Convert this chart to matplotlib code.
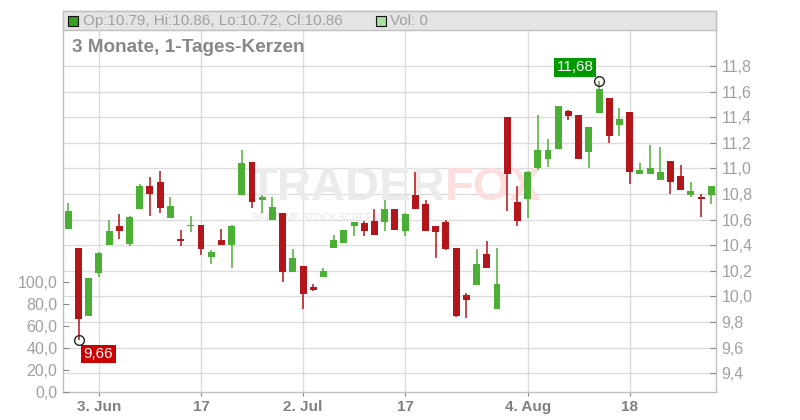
import matplotlib
matplotlib.use("Agg")
import matplotlib.pyplot as plt
import numpy as np
import pandas as pd

plt.rcParams['font.family'] = ['Liberation Sans', 'DejaVu Sans']

# trading days (US calendar, 2025)
dates = pd.bdate_range('2025-05-29', '2025-08-28', freq='C',
                       holidays=['2025-06-19', '2025-07-04'])

opens = [10.53, 10.38, 9.85, 10.18, 10.40, 10.55, 10.41, 10.68, 10.86, 10.89,
         10.61, 10.45, 10.55, 10.56, 10.31, 10.44, 10.40, 10.79, 11.05, 10.75,
         10.60, 10.65, 10.19, 10.24, 10.07, 10.15, 10.38, 10.42, 10.55, 10.57,
         10.59, 10.58, 10.68, 10.51, 10.79, 10.72, 10.55, 10.58, 10.38, 10.01,
         10.09, 10.33, 9.90, 11.40, 10.74, 10.76, 11.00, 11.07, 11.15, 11.45,
         11.42, 11.13, 11.43, 11.55, 11.34, 11.44, 10.96, 10.96, 10.91, 11.06,
         10.94, 10.79, 10.78, 10.79]
highs = [10.73, 10.38, 10.14, 10.35, 10.60, 10.64, 10.63, 10.88, 10.93, 10.98,
         10.78, 10.52, 10.63, 10.56, 10.36, 10.53, 10.56, 11.14, 11.05, 10.79,
         10.78, 10.65, 10.37, 10.24, 10.10, 10.22, 10.48, 10.52, 10.58, 10.59,
         10.68, 10.75, 10.68, 10.65, 10.97, 10.75, 10.55, 10.60, 10.38, 10.03,
         10.37, 10.43, 10.38, 11.40, 10.86, 10.98, 11.42, 11.23, 11.49, 11.46,
         11.42, 11.32, 11.68, 11.55, 11.47, 11.44, 11.04, 11.18, 11.17, 11.06,
         11.03, 10.89, 10.80, 10.86]
lows = [10.53, 9.66, 9.85, 10.15, 10.40, 10.45, 10.39, 10.68, 10.63, 10.65,
        10.61, 10.39, 10.50, 10.32, 10.25, 10.40, 10.22, 10.79, 10.69, 10.65,
        10.60, 10.11, 10.19, 9.90, 10.04, 10.15, 10.38, 10.42, 10.47, 10.47,
        10.48, 10.51, 10.52, 10.47, 10.68, 10.51, 10.30, 10.36, 9.84, 9.83,
        10.09, 10.22, 9.90, 10.67, 10.55, 10.61, 10.99, 11.01, 11.15, 11.38,
        11.07, 11.00, 11.43, 11.20, 11.25, 10.88, 10.96, 10.96, 10.91, 10.80,
        10.83, 10.78, 10.62, 10.72]
closes = [10.67, 9.82, 10.14, 10.34, 10.51, 10.51, 10.62, 10.86, 10.80, 10.69,
          10.71, 10.43, 10.56, 10.37, 10.35, 10.40, 10.55, 11.04, 10.74, 10.78,
          10.70, 10.19, 10.30, 10.02, 10.05, 10.20, 10.44, 10.52, 10.58, 10.51,
          10.48, 10.68, 10.52, 10.64, 10.68, 10.51, 10.50, 10.37, 9.85, 9.97,
          10.25, 10.22, 10.10, 10.96, 10.59, 10.97, 11.14, 11.14, 11.49, 11.41,
          11.07, 11.32, 11.62, 11.25, 11.39, 10.97, 10.99, 11.00, 10.97, 10.89,
          10.83, 10.82, 10.76, 10.86]
volumes = [0] * len(dates)

tick_dates = ['2025-06-03', '2025-06-17', '2025-07-02', '2025-07-17', '2025-08-04', '2025-08-18']
tick_labels = ['3. Jun', '17', '2. Jul', '17', '4. Aug', '18']
price_ticks = [9.4, 9.6, 9.8, 10.0, 10.2, 10.4, 10.6, 10.8, 11.0, 11.2, 11.4, 11.6, 11.8]
vol_ticks = [0, 20, 40, 60, 80, 100]

GREEN = '#4caf35'
RED = '#b2161a'
GRID = '#dcdcdc'
TXT = '#a0a0a0'

fig = plt.figure(figsize=(8, 4.2), dpi=100)
ax = fig.add_axes([63 / 800, 1 - 392 / 420, (716 - 63) / 800, (392 - 11) / 420])
vax = ax.twinx()

x = np.arange(len(dates))
o = np.array(opens); h = np.array(highs); l = np.array(lows); c = np.array(closes)
up = c >= o
cols = np.where(up, GREEN, RED)
body_lo = np.minimum(o, c)
body_h = np.maximum(np.abs(c - o), 0.008)

ax.vlines(x, l, h, colors=cols, linewidth=1.1, zorder=3)
ax.bar(x, body_h, bottom=body_lo, width=0.68, color=cols, linewidth=0, zorder=4)

ax.set_xlim(-0.52, 63.46)
ax.set_ylim(9.253, 12.23)

# price axis on the right
ax.yaxis.tick_right()
ax.set_yticks(price_ticks)
ax.set_yticklabels([f'{v:.1f}'.replace('.', ',') for v in price_ticks])
ax.tick_params(axis='y', direction='in', length=4, color='#888888', labelcolor=TXT,
               labelsize=11.5, pad=4)

tick_pos = [dates.get_loc(pd.Timestamp(d)) for d in tick_dates]
ax.set_xticks(tick_pos)
ax.set_xticklabels(tick_labels, fontweight='bold', color='#808080', fontsize=11)
ax.tick_params(axis='x', direction='out', length=3, color='#888888', pad=3)

ax.grid(True, color=GRID, linewidth=1.0, zorder=0)
ax.set_axisbelow(True)
for s in ax.spines.values():
    s.set_color('#c0c0c0')
    s.set_linewidth(1.0)

# volume axis on the left
vax.yaxis.tick_left()
vax.bar(x, volumes, width=0.68, color='#a8dca0')
vax.set_ylim(0, 345.4)
vax.set_yticks(vol_ticks)
vax.set_yticklabels([f'{v:.1f}'.replace('.', ',') for v in vol_ticks])
vax.tick_params(axis='y', direction='in', length=4, color='#888888', labelcolor=TXT,
                labelsize=11.5, pad=4)
for s in vax.spines.values():
    s.set_visible(False)

# watermark
ax.text(0.585, 0.535, 'TRADER', transform=ax.transAxes, ha='right', va='center',
        fontsize=34, fontweight='bold', color='#ebebeb', zorder=1)
ax.text(0.585, 0.535, 'FOX', transform=ax.transAxes, ha='left', va='center',
        fontsize=34, fontweight='bold', color='#fcdede', zorder=1)
ax.text(0.29, 0.457, 'REALTIME STOCK SCREENER', transform=ax.transAxes, ha='left',
        va='center', fontsize=7, color='#e4e4e4', zorder=1)

# extreme markers
i_lo = int(np.argmin(l))
i_hi = int(np.argmax(h))
ax.plot([i_lo, i_hi], [l[i_lo], h[i_hi]], 'o', mfc='none', mec='#222222',
        ms=7, mew=1.0, zorder=6)
ax.annotate(f'{l[i_lo]:.2f}'.replace('.', ','), (i_lo, l[i_lo]), xycoords='data',
            xytext=(20, -14), textcoords='offset pixels', ha='center', va='center',
            color='white', fontsize=11,
            bbox=dict(boxstyle='square,pad=0.15', fc='#cc0000', ec='none'), zorder=7)
ax.annotate(f'{h[i_hi]:.2f}'.replace('.', ','), (i_hi, h[i_hi]), xycoords='data',
            xytext=(-24, 14), textcoords='offset pixels', ha='center', va='center',
            color='white', fontsize=11,
            bbox=dict(boxstyle='square,pad=0.15', fc='#009900', ec='none'), zorder=7)

# header bar with OHLC legend
fig.patches.append(plt.Rectangle((63 / 800, 1 - 30 / 420), (716 - 63) / 800, 19 / 420,
                                 transform=fig.transFigure, fc='#e4e4e4', ec='#c0c0c0',
                                 lw=1.0, zorder=5))
fig.patches.append(plt.Rectangle((68 / 800, 1 - 26 / 420), 10 / 800, 10 / 420,
                                 transform=fig.transFigure, fc='#3a9e22', ec='#111111',
                                 lw=0.8, zorder=6))
fig.patches.append(plt.Rectangle((376 / 800, 1 - 26 / 420), 10 / 800, 10 / 420,
                                 transform=fig.transFigure, fc='#a8dca0', ec='#111111',
                                 lw=0.8, zorder=6))
last = len(dates) - 1
fig.text(83 / 800, 1 - 21 / 420,
         f'Op:{o[last]:.2f}, Hi:{h[last]:.2f}, Lo:{l[last]:.2f}, Cl:{c[last]:.2f}',
         ha='left', va='center', fontsize=11, color=TXT, zorder=7)
fig.text(390 / 800, 1 - 21 / 420, f'Vol: {volumes[last]}', ha='left', va='center',
         fontsize=11, color=TXT, zorder=7)
fig.text(72 / 800, 1 - 48 / 420, '3 Monate, 1-Tages-Kerzen', ha='left', va='center',
         fontsize=13.7, fontweight='bold', color='#888888')

fig.savefig('out.png', dpi=100)
